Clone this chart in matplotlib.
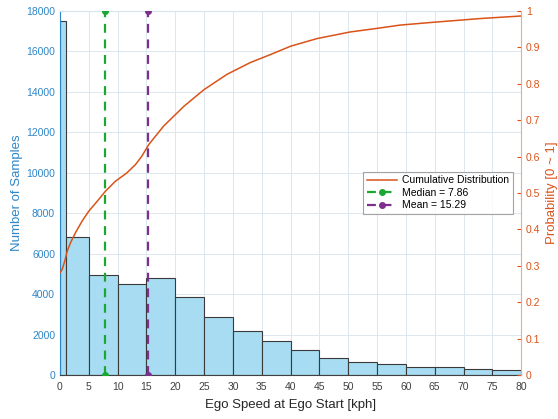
import numpy as np
import matplotlib.pyplot as plt

plt.rcParams['font.family'] = ['Liberation Sans', 'DejaVu Sans']

# histogram bins (kph) and counts
bin_edges = [0, 1, 5, 10, 15, 20, 25, 30, 35, 40, 45, 50, 55, 60, 65, 70, 75, 80]
counts = [17500, 6800, 4920, 4480, 4820, 3870, 2880, 2190, 1680, 1220,
          820, 630, 530, 380, 380, 280, 270]

# cumulative distribution
cdf_x = [0, 0.38, 0.83, 1.25, 1.82, 2.69, 3.85, 5.0, 6.45, 7.9, 9.6, 11.6,
         13.1, 14.2, 15.4, 18.0, 21.5, 25.0, 29.0, 33.0, 36.5, 40.0, 44.6,
         50.3, 55.0, 59.0, 64.2, 72.9, 80]
cdf_p = [0.281, 0.290, 0.313, 0.340, 0.363, 0.391, 0.423, 0.450, 0.477, 0.505,
         0.532, 0.555, 0.578, 0.601, 0.633, 0.684, 0.738, 0.784, 0.826, 0.858,
         0.880, 0.903, 0.924, 0.942, 0.952, 0.961, 0.968, 0.979, 0.986]

median_v = 7.86
mean_v = 15.29

blue = '#2E86C8'
orange = '#D95319'

fig = plt.figure(figsize=(5.58, 4.19), dpi=100)
ax = fig.add_axes([0.1075, 0.105, 0.8265, 0.869])

widths = np.diff(bin_edges)
ax.bar(bin_edges[:-1], counts, width=widths, align='edge', color='#A7DCF2',
       edgecolor='#3a3a3a', linewidth=0.8, zorder=2)

ax.set_xlim(0, 80)
ax.set_ylim(0, 18000)
ax.set_xticks(np.arange(0, 81, 5))
ax.set_yticks(np.arange(0, 18001, 2000))
ax.grid(True, color='#dde6ee', linewidth=0.7, zorder=0)
ax.set_axisbelow(True)
ax.tick_params(axis='x', colors='#404040', labelsize=7.5, direction='in', length=3, pad=5.3)
ax.tick_params(axis='y', colors=blue, labelsize=7.5, direction='in', length=3)
ax.set_xlabel('Ego Speed at Ego Start [kph]', fontsize=9.5, color='#262626', labelpad=4.5)
ax.set_ylabel('Number of Samples', fontsize=9.5, color=blue, labelpad=2)
ax.spines['left'].set_color(blue)
ax.spines['bottom'].set_color('#404040')
ax.spines['top'].set_color('#d6e4f0')
ax.spines['right'].set_visible(False)

ax2 = ax.twinx()
ax2.set_ylim(0, 1)
ax2.set_yticks(np.arange(0, 1.01, 0.1))
ax2.set_yticklabels(['0', '0.1', '0.2', '0.3', '0.4', '0.5', '0.6', '0.7', '0.8', '0.9', '1'])
ax2.tick_params(axis='y', colors=orange, labelsize=7.5, direction='in', length=3)
ax2.spines['right'].set_color('#F0A888')
ax2.spines['left'].set_visible(False)
ax2.spines['top'].set_visible(False)
ax2.spines['bottom'].set_visible(False)
ax2.set_ylabel('Probability [0 ~ 1]', fontsize=9.5, color=orange, labelpad=4)

l1, = ax2.plot(cdf_x, cdf_p, color=orange, linewidth=1.1, label='Cumulative Distribution', zorder=3)
l2, = ax2.plot([median_v, median_v], [0, 1], '--o', color='#1AA832', linewidth=1.6,
               markersize=4, dashes=(4, 3), label='Median = 7.86', zorder=4)
l3, = ax2.plot([mean_v, mean_v], [0, 1], '--o', color='#7E2F8E', linewidth=1.6,
               markersize=4, dashes=(4, 3), label='Mean = 15.29', zorder=4)

leg = ax2.legend(handles=[l1, l2, l3], loc='upper left', bbox_to_anchor=(0.646, 0.573),
                 fontsize=7.5, frameon=True, fancybox=False, edgecolor='#8c8c8c',
                 borderpad=0.35, labelspacing=0.25, handlelength=2.9, handletextpad=0.5)
leg.get_frame().set_linewidth(0.8)

fig.savefig('out.png', dpi=100)
